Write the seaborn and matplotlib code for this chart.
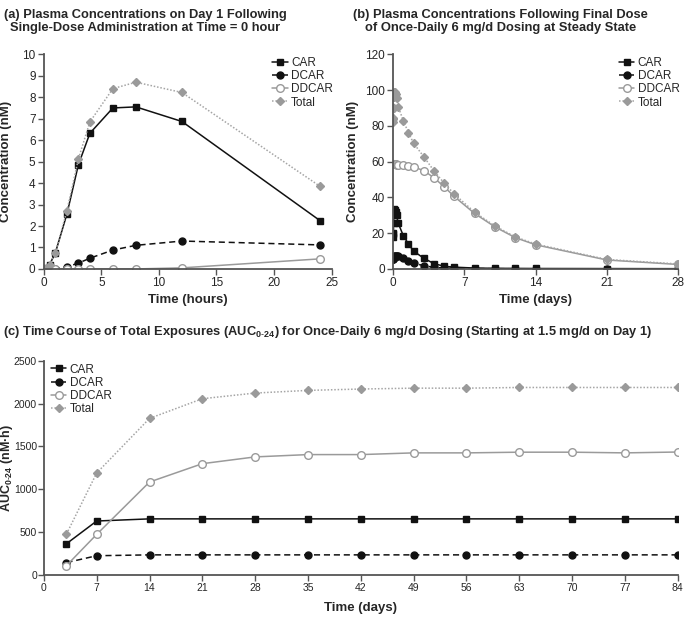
import matplotlib
matplotlib.use("Agg")
import matplotlib.pyplot as plt
import seaborn as sns

sns.set_style("white")
plt.rcParams["font.family"] = ["Liberation Sans", "DejaVu Sans"]
plt.rcParams["mathtext.fontset"] = "custom"
plt.rcParams["mathtext.rm"] = "Liberation Sans"
plt.rcParams["mathtext.bf"] = "Liberation Sans:bold"

# (a) day 1, single dose (hours)
hours_a = [0, 0.25, 0.5, 1, 2, 3, 4, 6, 8, 12, 24]
car_a = [0, 0.05, 0.2, 0.75, 2.55, 4.85, 6.32, 7.5, 7.55, 6.87, 2.25]
dcar_a = [0, 0, 0, 0.01, 0.1, 0.27, 0.5, 0.88, 1.1, 1.3, 1.12]
ddcar_a = [0, 0, 0, 0, 0, 0, 0, 0, 0, 0.05, 0.47]
total_a = [0, 0.05, 0.2, 0.76, 2.7, 5.12, 6.85, 8.4, 8.7, 8.22, 3.85]

# (b) after final dose at steady state (days)
days_b = [0, 0.0104, 0.0208, 0.0417, 0.0833, 0.125, 0.167, 0.25, 0.333, 0.5, 1,
          1.5, 2, 3, 4, 5, 6, 8, 10, 12, 14, 21, 28]
car_b = [18, 19.5, 20, 25.5, 31, 33.5, 33, 32, 30, 25.5, 18.5,
         14, 10, 6, 3, 1.5, 1, 0.5, 0.35, 0.3, 0.25, 0.2, 0.15]
dcar_b = [5.5, 5.5, 5.6, 6, 6.5, 7, 7.3, 7.5, 7.3, 7, 6.2,
          4.7, 3.3, 1.8, 0.9, 0.5, 0.35, 0.2, 0.15, 0.1, 0.1, 0.1, 0.1]
ddcar_b = [58.7, 58.7, 58.7, 58.7, 58.7, 58.6, 58.5, 58.4, 58.3, 58.2, 58,
           57.5, 57, 55, 51, 46, 40.5, 31, 23.5, 17.5, 13.5, 5, 2.5]
total_b = [82.2, 83.7, 84.3, 90.2, 96.2, 99.1, 98.8, 97.9, 95.6, 90.7, 82.7,
           76.2, 70.3, 62.8, 54.9, 48, 41.9, 31.7, 24, 17.9, 13.9, 5.3, 2.8]

# (c) AUC0-24 time course (days)
days_c = [3, 7, 14, 21, 28, 35, 42, 49, 56, 63, 70, 77, 84]
car_c = [365, 630, 655, 655, 655, 655, 655, 655, 655, 655, 655, 655, 655]
dcar_c = [145, 225, 235, 235, 235, 235, 235, 235, 235, 235, 235, 235, 235]
ddcar_c = [110, 474, 1085, 1299, 1378, 1405, 1405, 1425, 1425, 1433, 1433, 1425, 1435]
total_c = [478, 1190, 1827, 2057, 2123, 2154, 2170, 2180, 2180, 2188, 2188, 2188, 2188]

series_names = ["CAR", "DCAR", "DDCAR", "Total"]
styles = {
    "CAR": dict(color="#111111", linestyle="-", marker="s", markerfacecolor="#111111",
                markeredgecolor="#111111", linewidth=1.1, markersize=4.5),
    "DCAR": dict(color="#111111", linestyle=(0, (4, 2.5)), marker="o", markerfacecolor="#111111",
                 markeredgecolor="#111111", linewidth=1.1, markersize=5),
    "DDCAR": dict(color="#9a9a9a", linestyle="-", marker="o", markerfacecolor="white",
                  markeredgecolor="#9a9a9a", linewidth=1.1, markersize=5.5),
    "Total": dict(color="#a5a5a5", linestyle=(0, (1, 1.2)), marker="D", markerfacecolor="#9a9a9a",
                  markeredgecolor="#9a9a9a", linewidth=1.1, markersize=4.5),
}

fig = plt.figure(figsize=(6.85, 6.24), dpi=100)
ax_a = fig.add_axes([0.064, 0.569, 0.420, 0.344])
ax_b = fig.add_axes([0.574, 0.569, 0.416, 0.344])
ax_c = fig.add_axes([0.064, 0.0785, 0.9255, 0.3434])


def draw(ax, x, ys):
    for name, y in zip(series_names, ys):
        sns.lineplot(x=x, y=y, ax=ax, label=name, sort=False, estimator=None,
                     markeredgewidth=1.0, **styles[name])


def style_axes(ax, labelsize=8.5):
    for side in ["top", "right"]:
        ax.spines[side].set_visible(False)
    for side in ["left", "bottom"]:
        ax.spines[side].set_color("#555555")
        ax.spines[side].set_linewidth(1.3)
    ax.tick_params(axis="both", direction="out", length=4, width=1, color="#555555",
                   labelsize=labelsize, pad=2, left=True, bottom=True)


legend_kw = dict(frameon=False, fontsize=8.5, handlelength=1.3, handletextpad=0.3,
                 labelspacing=0.1, borderaxespad=0.2)

draw(ax_a, hours_a, [car_a, dcar_a, ddcar_a, total_a])
ax_a.set_xlim(0, 25)
ax_a.set_ylim(0, 10)
ax_a.set_xticks(range(0, 26, 5))
ax_a.set_yticks(range(0, 11))
ax_a.set_xlabel("Time (hours)", fontsize=9.5, fontweight="bold")
ax_a.set_ylabel("Concentration (nM)", fontsize=9.5, fontweight="bold")
ax_a.xaxis.set_label_coords(0.5, -0.115)
ax_a.yaxis.set_label_coords(-0.11, 0.5)
style_axes(ax_a)
ax_a.legend(loc="upper right", bbox_to_anchor=(1.03, 1.02), **legend_kw)

draw(ax_b, days_b, [car_b, dcar_b, ddcar_b, total_b])
ax_b.set_xlim(0, 28)
ax_b.set_ylim(0, 120)
ax_b.set_xticks(range(0, 29, 7))
ax_b.set_yticks(range(0, 121, 20))
ax_b.set_xlabel("Time (days)", fontsize=9.5, fontweight="bold")
ax_b.set_ylabel("Concentration (nM)", fontsize=9.5, fontweight="bold")
ax_b.xaxis.set_label_coords(0.5, -0.115)
ax_b.yaxis.set_label_coords(-0.12, 0.5)
style_axes(ax_b)
ax_b.legend(loc="upper right", bbox_to_anchor=(1.03, 1.02), **legend_kw)

draw(ax_c, days_c, [car_c, dcar_c, ddcar_c, total_c])
ax_c.set_xlim(0, 84)
ax_c.set_ylim(0, 2500)
ax_c.set_xticks(range(0, 85, 7))
ax_c.set_yticks(range(0, 2501, 500))
ax_c.set_xlabel("Time (days)", fontsize=9.5, fontweight="bold")
ax_c.set_ylabel(r"AUC$_{\mathbf{0\text{-}24}}$ (nM·h)", fontsize=9, fontweight="bold")
ax_c.xaxis.set_label_coords(0.5, -0.125)
ax_c.yaxis.set_label_coords(-0.045, 0.5)
style_axes(ax_c, labelsize=7.5)
ax_c.tick_params(axis="y", pad=1)
ax_c.legend(loc="upper left", bbox_to_anchor=(0.0, 1.02), **legend_kw)

fig.text(0.212, 0.985, "(a) Plasma Concentrations on Day 1 Following\nSingle-Dose Administration at Time = 0 hour",
         ha="center", va="top", fontsize=9.3, fontweight="bold", linespacing=1.1)
fig.text(0.731, 0.985, "(b) Plasma Concentrations Following Final Dose\nof Once-Daily 6 mg/d Dosing at Steady State",
         ha="center", va="top", fontsize=9.3, fontweight="bold", linespacing=1.1)
fig.text(0.004, 0.468, "(c) Time Course of Total Exposures (AUC$_{\\mathbf{0\\text{-}24}}$) for Once-Daily 6 mg/d Dosing (Starting at 1.5 mg/d on Day 1)",
         ha="left", va="center", fontsize=9.3, fontweight="bold")

fig.savefig("out.png", dpi=100)
